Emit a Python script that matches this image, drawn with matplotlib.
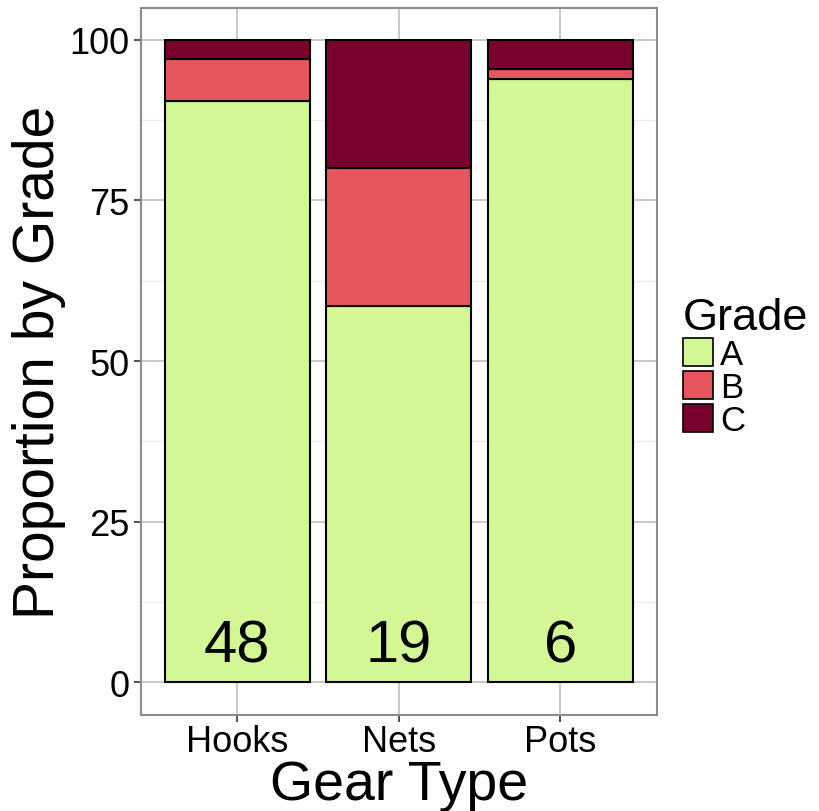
import matplotlib
matplotlib.use("Agg")
import matplotlib.pyplot as plt
from matplotlib.patches import Patch
from matplotlib.ticker import MultipleLocator

plt.rcParams['font.family'] = ['Liberation Sans', 'DejaVu Sans']

gear = ['Hooks', 'Nets', 'Pots']
grades = ['A', 'B', 'C']
grade_a = [90.5, 58.5, 93.8]
grade_b = [6.5, 21.5, 1.6]
grade_c = [3.0, 20.0, 4.6]
counts = [48, 19, 6]
colours = ['#D4F795', '#E6565C', '#7A002E']

fig = plt.figure(figsize=(8.19, 8.12), dpi=100)
ax = fig.add_axes([140.5 / 819, 1 - 715.5 / 812, 516.5 / 819, 707 / 812])

x = range(len(gear))
bottom = [0, 0, 0]
for vals, col in zip([grade_a, grade_b, grade_c], colours):
    ax.bar(x, vals, width=0.9, bottom=bottom, color=col, edgecolor='black',
           linewidth=1.5, zorder=3)
    bottom = [b + v for b, v in zip(bottom, vals)]

for i, n in enumerate(counts):
    ax.text(i, 3.3, str(n), ha='center', va='baseline', fontsize=43, zorder=4)

ax.set_xlim(-0.6, 2.6)
ax.set_ylim(-5, 105)
ax.set_xticks(list(x))
ax.set_xticklabels(gear)
ax.yaxis.set_major_locator(MultipleLocator(25))
ax.yaxis.set_minor_locator(MultipleLocator(12.5))
ax.grid(which='major', color='#c4c4c4', linewidth=1.3, zorder=0)
ax.grid(which='minor', axis='y', color='#ededed', linewidth=1.0, zorder=0)
ax.tick_params(which='major', labelsize=26, length=5, width=1.2, color='#333333',
               pad=3, labelcolor='black')
ax.tick_params(axis='x', pad=2)
ax.tick_params(which='minor', length=0)
for s in ax.spines.values():
    s.set_color('#8c8c8c')
    s.set_linewidth(1.5)

ax.set_xlabel('Gear Type', fontsize=40, labelpad=-0.5)
ax.set_ylabel('Proportion by Grade', fontsize=41, labelpad=2)

handles = [Patch(facecolor=c, edgecolor='black', linewidth=1.2) for c in colours]
leg = fig.legend(handles, grades, loc='upper left', bbox_to_anchor=(683 / 819, 1 - 298 / 812),
                 frameon=False, fontsize=25, title='Grade', title_fontsize=32.5,
                 handlelength=0.86, handleheight=0.86, handletextpad=0.2,
                 labelspacing=0.0, borderpad=0, borderaxespad=0)
leg._legend_box.align = 'left'

fig.savefig('out.png', dpi=100)
